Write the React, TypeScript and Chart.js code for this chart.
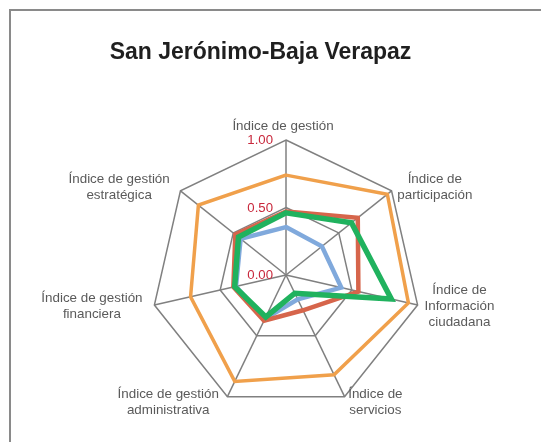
import { useEffect, useRef } from "react";
import { Chart, registerables } from "chart.js";

Chart.register(...registerables);

const TITLE = "San Jerónimo-Baja Verapaz";

const CATEGORIES: string[][] = [
  ["Índice de gestión"],
  ["Índice de", "participación"],
  ["Índice de", "Información", "ciudadana"],
  ["Índice de", "servicios"],
  ["Índice de gestión", "administrativa"],
  ["Índice de gestión", "financiera"],
  ["Índice de gestión", "estratégica"],
];

const SERIES_NAMES = ["Serie 1", "Serie 2", "Serie 3", "Serie 4"];
const SERIES_BLUE = [0.355, 0.34, 0.42, 0.2, 0.36, 0.38, 0.43];
const SERIES_RED = [0.47, 0.68, 0.55, 0.29, 0.375, 0.4, 0.48];
const SERIES_ORANGE = [0.74, 0.96, 0.93, 0.82, 0.875, 0.725, 0.83];
const SERIES_GREEN = [0.46, 0.62, 0.8, 0.15, 0.345, 0.39, 0.45];

const TICK_VALUES = [0, 0.5, 1];
const TICK_LABELS = ["0.00", "0.50", "1.00"];

const FONT = "'Liberation Sans', Arial, Helvetica, sans-serif";

const overlay = {
  id: "overlay",
  beforeDraw(chart: any) {
    const ctx = chart.ctx as CanvasRenderingContext2D;
    ctx.save();
    ctx.fillStyle = "#ffffff";
    ctx.fillRect(0, 0, chart.width, chart.height);
    ctx.strokeStyle = "#8a8a8a";
    ctx.lineWidth = 2;
    ctx.lineCap = "butt";
    ctx.beginPath();
    ctx.moveTo(10, 9);
    ctx.lineTo(10, chart.height);
    ctx.moveTo(9, 10);
    ctx.lineTo(chart.width, 10);
    ctx.stroke();
    ctx.restore();
  },
  afterDraw(chart: any) {
    const ctx = chart.ctx as CanvasRenderingContext2D;
    const r = chart.scales.r;
    ctx.save();
    // title
    ctx.font = `bold 23px ${FONT}`;
    ctx.fillStyle = "#1f1f1f";
    ctx.textAlign = "center";
    ctx.textBaseline = "alphabetic";
    ctx.fillText(TITLE, 260.5, 59);

    // point labels
    ctx.font = `13.4px ${FONT}`;
    ctx.fillStyle = "#5a5a5a";
    ctx.textBaseline = "middle";
    ctx.textAlign = "center";
    const lh = 15.6;
    const R = r.drawingArea;
    (chart.data.labels as any[]).forEach((lab, i) => {
      const lines: string[] = Array.isArray(lab) ? lab : [String(lab)];
      const p = r.getPointPosition(i, R + 6);
      const dx = p.x - r.xCenter;
      const w = Math.max(...lines.map((l) => ctx.measureText(l).width));
      const h = lines.length * lh;
      let cx: number;
      let cy: number;
      if (Math.abs(dx) < 1) {
        cx = p.x - 3;
        cy = p.y - h / 2;
      } else if (dx > 0) {
        cx = p.x + 1 + w / 2;
        cy = p.y;
      } else {
        cx = p.x - 6 - w / 2;
        cy = p.y;
      }
      lines.forEach((l, k) => ctx.fillText(l, cx, cy - h / 2 + lh / 2 + k * lh));
    });

    // tick labels
    ctx.font = `13.2px ${FONT}`;
    ctx.fillStyle = "#c8283c";
    ctx.textAlign = "right";
    (r.ticks as any[]).forEach((t) => {
      const d = r.getDistanceFromCenterForValue(t.value);
      ctx.fillText(t.label, r.xCenter - 13, r.yCenter - d + 0.5);
    });
    ctx.restore();
  },
};

export default function App() {
  const ref = useRef<HTMLCanvasElement | null>(null);

  useEffect(() => {
    if (!ref.current) return;
    const mk = (label: string, data: number[], color: string, width: number, order: number) => ({
      label,
      data,
      borderColor: color,
      backgroundColor: "transparent",
      borderWidth: width,
      pointRadius: 0,
      pointHoverRadius: 0,
      fill: false,
      order,
    });
    const chart = new Chart(ref.current, {
      type: "radar",
      data: {
        labels: CATEGORIES,
        datasets: [
          mk(SERIES_NAMES[0], SERIES_BLUE, "#80a9dc", 4.5, 2),
          mk(SERIES_NAMES[1], SERIES_RED, "#d6654b", 4.5, 1),
          mk(SERIES_NAMES[2], SERIES_ORANGE, "#f0a04b", 3.5, 3),
          mk(SERIES_NAMES[3], SERIES_GREEN, "#20b25e", 5.5, 0),
        ],
      },
      options: {
        responsive: false,
        animation: false,
        events: [],
        layout: { padding: { left: 151, right: 120, top: 140, bottom: 32 } },
        plugins: {
          legend: { display: false },
          title: { display: false },
          tooltip: { enabled: false },
        },
        scales: {
          r: {
            min: TICK_VALUES[0],
            max: TICK_VALUES[TICK_VALUES.length - 1],
            beginAtZero: true,
            ticks: {
              display: false,
              stepSize: TICK_VALUES[1] - TICK_VALUES[0],
              callback: (v: any) => {
                const idx = TICK_VALUES.indexOf(Number(v));
                return idx >= 0 ? TICK_LABELS[idx] : Number(v).toFixed(2);
              },
            },
            pointLabels: { display: false },
            grid: { color: "#808080", lineWidth: 1.5 },
            angleLines: { color: "#808080", lineWidth: 1.5 },
          },
        },
      } as any,
      plugins: [overlay],
    });
    return () => chart.destroy();
  }, []);

  return (
    <div style={{ position: "absolute", left: 0, top: 0, width: 541, height: 442, background: "#fff" }}>
      <canvas ref={ref} width={541} height={442} style={{ display: "block" }} />
    </div>
  );
}
